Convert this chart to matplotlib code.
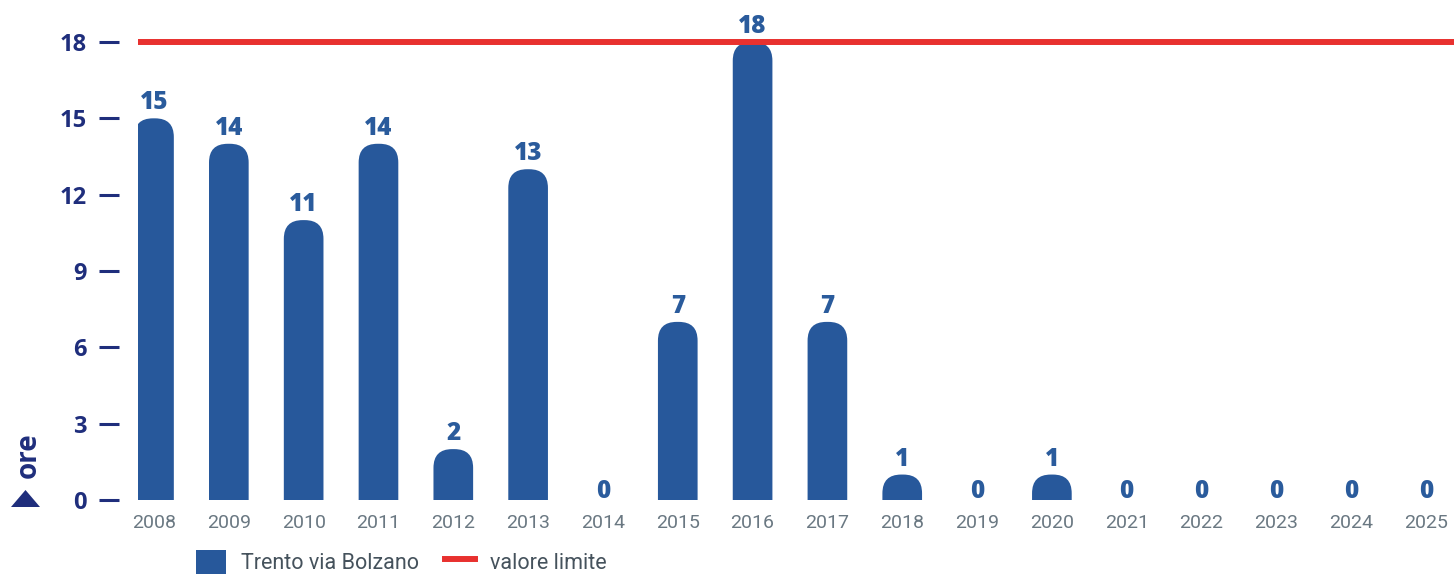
import matplotlib.pyplot as plt
from matplotlib.patches import FancyBboxPatch, Patch, Polygon
from matplotlib.lines import Line2D

# data
years = list(range(2008, 2026))
hours = [15, 14, 11, 14, 2, 13, 0, 7, 18, 7, 1, 0, 1, 0, 0, 0, 0, 0]
limit = 18
yticks = [0, 3, 6, 9, 12, 15, 18]
series_name = "Trento via Bolzano"
limit_name = "valore limite"
ylabel = "ore"

# colours
bar_blue = "#27589b"
label_blue = "#2a5b9c"
navy = "#1f2e7c"
red = "#e8312f"
gray = "#6a7882"
legend_gray = "#45525c"

bold_font = "Open Sans"
thin_font = "Roboto"

W, H = 1454, 576
fig = plt.figure(figsize=(W / 100, H / 100), dpi=100)

px_x = 74.8          # pixels per year
px_y = 458 / 18      # pixels per hour
ytop = 19.6
ax = fig.add_axes([138 / W, 76 / H, 1 - 138 / W, ytop * px_y / H])
ax.set_xlim(2008 - 16 / px_x, 2025 + 28 / px_x)
ax.set_ylim(0, ytop)

# bars, then swap each rectangle for one with a rounded top
bars = ax.bar(years, hours, width=0.53, color=bar_blue)
asp = px_x / px_y
rx = 0.25
ry = rx * asp
for b in bars:
    x0, w, h = b.get_x(), b.get_width(), b.get_height()
    b.set_visible(False)
    if h <= 0:
        continue
    p = FancyBboxPatch((x0, -ry), w, h + ry,
                       boxstyle=f"round,pad=0,rounding_size={rx}",
                       mutation_aspect=asp, fc=bar_blue, ec="none", zorder=2)
    ax.add_patch(p)

# value labels
for x, v in zip(years, hours):
    ax.annotate(str(v), (x, v), xytext=(0, 6.5 if v > 0 else 1.5),
                textcoords="offset points", ha="center", va="baseline",
                fontsize=17.5, fontweight="heavy", color=label_blue,
                family=bold_font, annotation_clip=False)

# limit line
ax.axhline(limit, color=red, lw=4.3, zorder=3)

# axes styling
for s in ax.spines.values():
    s.set_visible(False)
ax.spines["left"].set_position(("outward", 13.7))
ax.set_yticks(yticks)
ax.tick_params(axis="y", length=14.4, width=2.2, color=navy, pad=8.6,
               labelsize=17, labelcolor=navy)
for t in ax.get_yticklabels():
    t.set_fontweight("bold")
    t.set_family(bold_font)

ax.set_xticks(years)
ax.tick_params(axis="x", length=0, pad=10, labelsize=14, labelcolor=gray)
for t in ax.get_xticklabels():
    t.set_family(thin_font)

# y label with small triangle
fig.text(28 / W, 1 - 455 / H, ylabel, rotation=90, ha="center", va="center",
         fontsize=20, fontweight="bold", color=navy, family=bold_font)
tri = Polygon([(11 / W, 1 - 507 / H), (40 / W, 1 - 507 / H), (25.5 / W, 1 - 490 / H)],
              closed=True, transform=fig.transFigure, fc=navy, ec="none")
fig.patches.append(tri)

# legend
handles = [Patch(facecolor=bar_blue, label=series_name),
           Line2D([], [], color=red, lw=4.3, label=limit_name)]
fig.legend(handles=handles, loc="center left", bbox_to_anchor=(196 / W, 1 - 562 / H),
           ncol=2, frameon=False, borderpad=0, borderaxespad=0,
           handlelength=1.4, handleheight=1.4, handletextpad=0.7, columnspacing=1.2,
           prop={"family": thin_font, "size": 15.5}, labelcolor=legend_gray)

fig.savefig("out.png", dpi=100)
